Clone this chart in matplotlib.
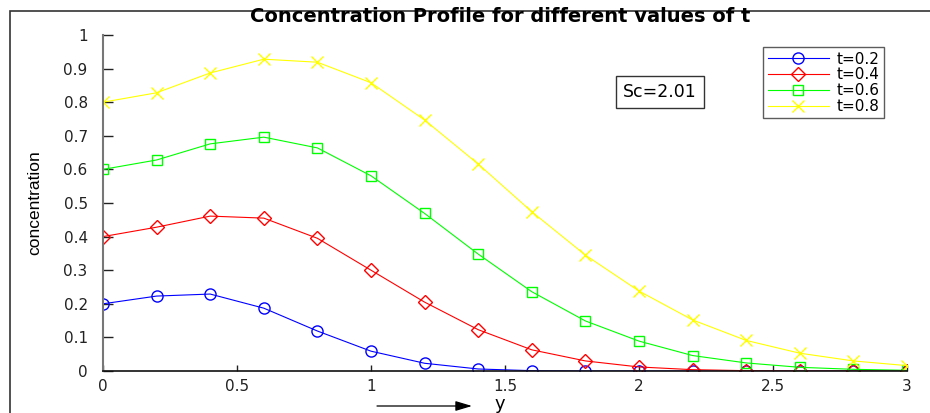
import matplotlib
matplotlib.use("Agg")
import matplotlib.pyplot as plt
from matplotlib.patches import Rectangle

plt.rcParams['font.family'] = ['DejaVu Sans']

# distance from the plate
y = [0, 0.2, 0.4, 0.6, 0.8, 1.0, 1.2, 1.4, 1.6, 1.8, 2.0, 2.2, 2.4, 2.6, 2.8, 3.0]

# concentration for each time value
c_t02 = [0.200, 0.223, 0.229, 0.187, 0.119, 0.059, 0.023, 0.006, 0.001, 0.0, 0.0, 0.0, 0.0, 0.0, 0.0, 0.0]
c_t04 = [0.400, 0.428, 0.461, 0.455, 0.395, 0.300, 0.205, 0.123, 0.063, 0.030, 0.012, 0.004, 0.001, 0.0, 0.0, 0.0]
c_t06 = [0.600, 0.628, 0.676, 0.696, 0.664, 0.581, 0.469, 0.348, 0.236, 0.149, 0.089, 0.046, 0.024, 0.011, 0.005, 0.002]
c_t08 = [0.800, 0.828, 0.887, 0.928, 0.919, 0.858, 0.747, 0.616, 0.474, 0.345, 0.238, 0.152, 0.091, 0.053, 0.030, 0.016]

labels = ['t=0.2', 't=0.4', 't=0.6', 't=0.8']
colors = ['#0000ff', '#ff0000', '#00ff00', '#ffff00']
markers = ['o', 'D', 's', 'x']
sizes = [8, 7, 6.5, 9]

W, H = 930, 413
fig = plt.figure(figsize=(W / 100, H / 100), dpi=100)

# outer frame
fig.patches.append(Rectangle((9.5 / W, -0.1), 1.2, 1 - 11 / H + 0.1, transform=fig.transFigure,
                             fill=False, edgecolor='#333333', linewidth=1.2))

ax = fig.add_axes([103 / W, 42 / H, 804 / W, 336 / H])

for c, lab, col, m, ms in zip([c_t02, c_t04, c_t06, c_t08], labels, colors, markers, sizes):
    ax.plot(y, c, color=col, marker=m, markersize=ms, fillstyle='none',
            markeredgewidth=1.0, linewidth=0.8, label=lab)

ax.set_xlim(0, 3)
ax.set_ylim(0, 1)
ax.set_xticks([0, 0.5, 1, 1.5, 2, 2.5, 3])
ax.set_xticklabels(['0', '0.5', '1', '1.5', '2', '2.5', '3'])
ax.set_yticks([0, 0.1, 0.2, 0.3, 0.4, 0.5, 0.6, 0.7, 0.8, 0.9, 1])
ax.set_yticklabels(['0', '0.1', '0.2', '0.3', '0.4', '0.5', '0.6', '0.7', '0.8', '0.9', '1'])
ax.tick_params(axis='y', direction='in', length=7, width=1, labelsize=11, pad=11, colors='#222222')
ax.tick_params(axis='x', direction='in', length=4, width=1, labelsize=11, pad=6, colors='#222222')

ax.spines['top'].set_visible(False)
ax.spines['right'].set_visible(False)
ax.spines['left'].set_color('#777777')
ax.spines['left'].set_linewidth(1.5)
ax.spines['bottom'].set_color('#111111')
ax.spines['bottom'].set_linewidth(1.2)

fig.text(500 / W, 1 - 17 / H, 'Concentration Profile for different values of t',
         ha='center', va='center', fontsize=14, fontweight='bold')

fig.text(35 / W, 1 - 203 / H, 'concentration', rotation=90, ha='center', va='center',
         fontsize=12.5, family=['Liberation Sans Narrow', 'Liberation Sans'])

# arrow pointing along y
fig.text(500 / W, 1 - 404 / H, 'y', ha='center', va='center', fontsize=13)
ax.annotate('', xy=(472 / W, 1 - 406 / H), xytext=(377 / W, 1 - 406 / H),
            xycoords='figure fraction', textcoords='figure fraction', annotation_clip=False,
            arrowprops=dict(arrowstyle='-|>,head_length=1.0,head_width=0.3', color='#000000',
                            linewidth=0.9, shrinkA=0, shrinkB=0))

fig.text(660 / W, 1 - 92 / H, 'Sc=2.01', ha='center', va='center', fontsize=12.5,
         bbox=dict(boxstyle='square,pad=0.4', facecolor='white', edgecolor='#333333', linewidth=1))

leg = ax.legend(loc='upper right', bbox_to_anchor=(884 / W, 1 - 47 / H),
                bbox_transform=fig.transFigure, fontsize=11, frameon=True, fancybox=False,
                edgecolor='#333333', handlelength=4.0, labelspacing=0.05, borderpad=0.3,
                handletextpad=0.5, borderaxespad=0)
leg.get_frame().set_linewidth(1)

fig.savefig('out.png', dpi=100)
